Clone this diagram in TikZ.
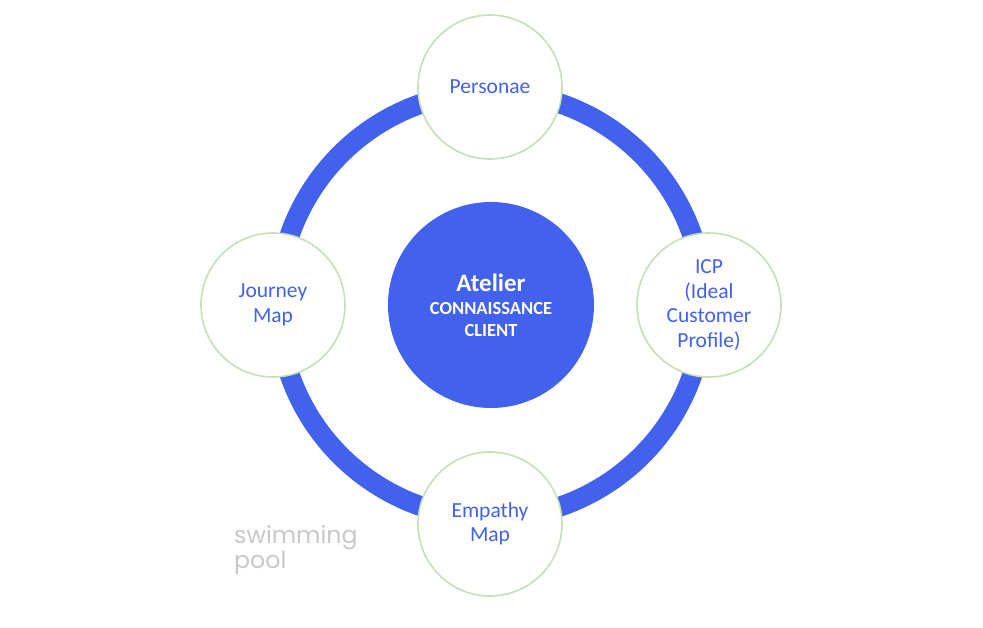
\documentclass[tikz,border=0pt]{standalone}
\usepackage{fontspec}
\setmainfont{Carlito}
\newfontfamily\logofont{Poppins}
\usepackage{xcolor}
\usetikzlibrary{positioning}
\definecolor{royal}{HTML}{4262ED}
\definecolor{softgreen}{HTML}{C5E0B4}
\definecolor{logogray}{HTML}{C8C8C8}
\tikzset{
    hub/.style = {circle, minimum size=206pt, inner sep=0pt, fill=royal, text=white, align=center, font=\bfseries\fontsize{18.5}{21.5}\selectfont},
    topic/.style = {circle, minimum size=144pt, inner sep=0pt, draw=softgreen, line width=1.6pt, fill=white, text=royal, align=center, font=\fontsize{21.5}{24.5}\selectfont},
    ring/.style = {draw=royal, line width=20pt}
}
\begin{document}
\begin{tikzpicture}[x=1pt, y=-1pt]
    \useasboundingbox (0,0) rectangle (983,627);

    % ring behind the topics
    \coordinate (c) at (491,305);
    \draw [ring] (c) circle (213);

    \node [hub] (atelier) at (c) {{\fontsize{25}{27}\selectfont Atelier}\\[2pt]CONNAISSANCE\\CLIENT};

    \node [topic] (personae) at (490,87) {Personae};
    \node [topic] (icp) at (709,305) {ICP\\(Ideal\\Customer\\Profile)};
    \node [topic] (journey) at (273,305) {Journey\\Map};
    \node [topic] (empathy) at (490,524) {Empathy\\Map};

    % logo
    \node [anchor=north west, inner sep=0pt, align=left, text=logogray, font=\logofont\fontsize{23.7}{25}\selectfont] (logo) at (234,525) {swimming\\pool};
\end{tikzpicture}
\end{document}
